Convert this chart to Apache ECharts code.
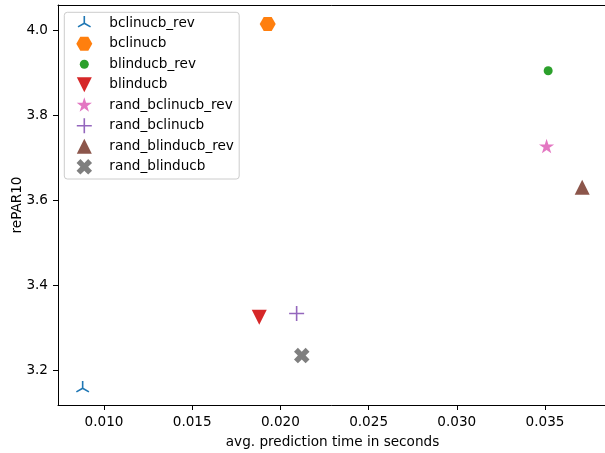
<!DOCTYPE html>
<html>
<head>
<meta charset="utf-8">
<script src="https://cdn.jsdelivr.net/npm/echarts@6/dist/echarts.min.js"></script>
<style>
html,body{margin:0;padding:0;background:#fff;}
#chart{width:605px;height:453px;}
</style>
</head>
<body>
<div id="chart"></div>
<script>
// ---- data ----
const seriesNames = ['bclinucb_rev', 'bclinucb', 'blinducb_rev', 'blinducb',
  'rand_bclinucb_rev', 'rand_bclinucb', 'rand_blinducb_rev', 'rand_blinducb'];
const predictionTime = [0.00879, 0.01928, 0.03518, 0.01880, 0.03509, 0.02092, 0.03711, 0.02121];
const rePAR10 = [3.157, 4.014, 3.904, 3.324, 3.725, 3.333, 3.630, 3.234];
const xTicks = [0.010, 0.015, 0.020, 0.025, 0.030, 0.035];
const yTicks = [3.2, 3.4, 3.6, 3.8, 4.0];

// ---- styles ----
const colors = ['#1f77b4', '#ff7f0e', '#2ca02c', '#d62728', '#e377c2', '#9467bd', '#8c564b', '#7f7f7f'];
// invisible frame so every marker (and legend icon) keeps a 40x20 box at scale 1
const FRAME = 'M-20 -10 L-20 -10 M20 10 L20 10 ';
const shapes = [
  FRAME + 'M-0.8 -7.25 L0.8 -7.25 L0.8 -0.462 L6.68 2.937 L5.88 4.323 L0 0.924 L-5.88 4.323 L-6.68 2.937 L-0.8 -0.462 Z',
  FRAME + 'M8 0 L4 6.93 L-4 6.93 L-8 0 L-4 -6.93 L4 -6.93 Z',
  FRAME + 'M-4.5 0 A4.5 4.5 0 1 0 4.5 0 A4.5 4.5 0 1 0 -4.5 0 Z',
  FRAME + 'M-7.5 -7.5 L7.5 -7.5 L0 7.5 Z',
  FRAME + 'M0 -8 L1.796 -2.472 L7.608 -2.472 L2.906 0.944 L4.702 6.472 L0 3.056 L-4.702 6.472 L-2.906 0.944 L-7.608 -2.472 L-1.796 -2.472 Z',
  FRAME + 'M-0.8 -7.5 L0.8 -7.5 L0.8 -0.8 L7.5 -0.8 L7.5 0.8 L0.8 0.8 L0.8 7.5 L-0.8 7.5 L-0.8 0.8 L-7.5 0.8 L-7.5 -0.8 L-0.8 -0.8 Z',
  FRAME + 'M0 -7.5 L7.5 7.5 L-7.5 7.5 Z',
  FRAME + 'M-3.875 -7.75 L0 -3.875 L3.875 -7.75 L7.75 -3.875 L3.875 0 L7.75 3.875 L3.875 7.75 L0 3.875 L-3.875 7.75 L-7.75 3.875 L-3.875 0 L-7.75 -3.875 Z'
];

const FONT = 'DejaVu Sans';
const FS = 13.6;

const chart = echarts.init(document.getElementById('chart'), null, {renderer: 'canvas'});
const series = seriesNames.map((n, i) => ({
  name: n,
  type: 'scatter',
  symbol: 'path://' + shapes[i],
  symbolSize: [40, 20],
  itemStyle: {color: colors[i], borderWidth: 0, opacity: 1},
  emphasis: {disabled: true},
  data: [[predictionTime[i], rePAR10[i]]]
}));

chart.setOption({
  animation: false,
  backgroundColor: '#fff',
  grid: {left: 58, right: -2, top: 5, bottom: 48, containLabel: false, outerBoundsMode: 'none'},
  xAxis: [{
    type: 'value',
    min: 0.007392, max: 0.038515,
    name: 'avg. prediction time in seconds',
    nameLocation: 'middle', nameGap: 30, nameMoveOverlap: false,
    nameTextStyle: {fontFamily: FONT, fontSize: FS, color: '#000'},
    axisLine: {show: true, onZero: false, lineStyle: {color: '#000', width: 1}},
    axisTick: {show: true, length: 5, lineStyle: {color: '#000', width: 1}, customValues: xTicks},
    axisLabel: {show: true, margin: 10, fontFamily: FONT, fontSize: FS, color: '#000',
      customValues: xTicks, formatter: v => v.toFixed(3)},
    splitLine: {show: false}
  }, {
    type: 'value', position: 'top',
    min: 0.007392, max: 0.038515,
    axisLine: {show: true, onZero: false, lineStyle: {color: '#000', width: 1}},
    axisTick: {show: false}, axisLabel: {show: false}, splitLine: {show: false}
  }],
  yAxis: [{
    type: 'value',
    min: 3.1176, max: 4.0588,
    name: 'rePAR10',
    nameLocation: 'middle', nameGap: 34, nameRotate: 90, nameMoveOverlap: false,
    nameTextStyle: {fontFamily: FONT, fontSize: FS, color: '#000'},
    axisLine: {show: true, onZero: false, lineStyle: {color: '#000', width: 1}},
    axisTick: {show: true, length: 5, lineStyle: {color: '#000', width: 1}, customValues: yTicks},
    axisLabel: {show: true, margin: 10, fontFamily: FONT, fontSize: FS, color: '#000',
      customValues: yTicks, formatter: v => v.toFixed(1)},
    splitLine: {show: false}
  }],
  legend: {
    orient: 'vertical',
    left: 64.3, top: 12.3,
    itemWidth: 40, itemHeight: 20, itemGap: 0.5,
    padding: [1, 5.3, 2.2, 0],
    backgroundColor: 'rgba(255,255,255,0.8)',
    borderColor: '#cccccc', borderWidth: 1, borderRadius: 3,
    textStyle: {fontFamily: FONT, fontSize: FS, color: '#000'},
    selectedMode: false,
    itemStyle: {borderWidth: 0},
    data: seriesNames
  },
  series: series
});
</script>
</body>
</html>
